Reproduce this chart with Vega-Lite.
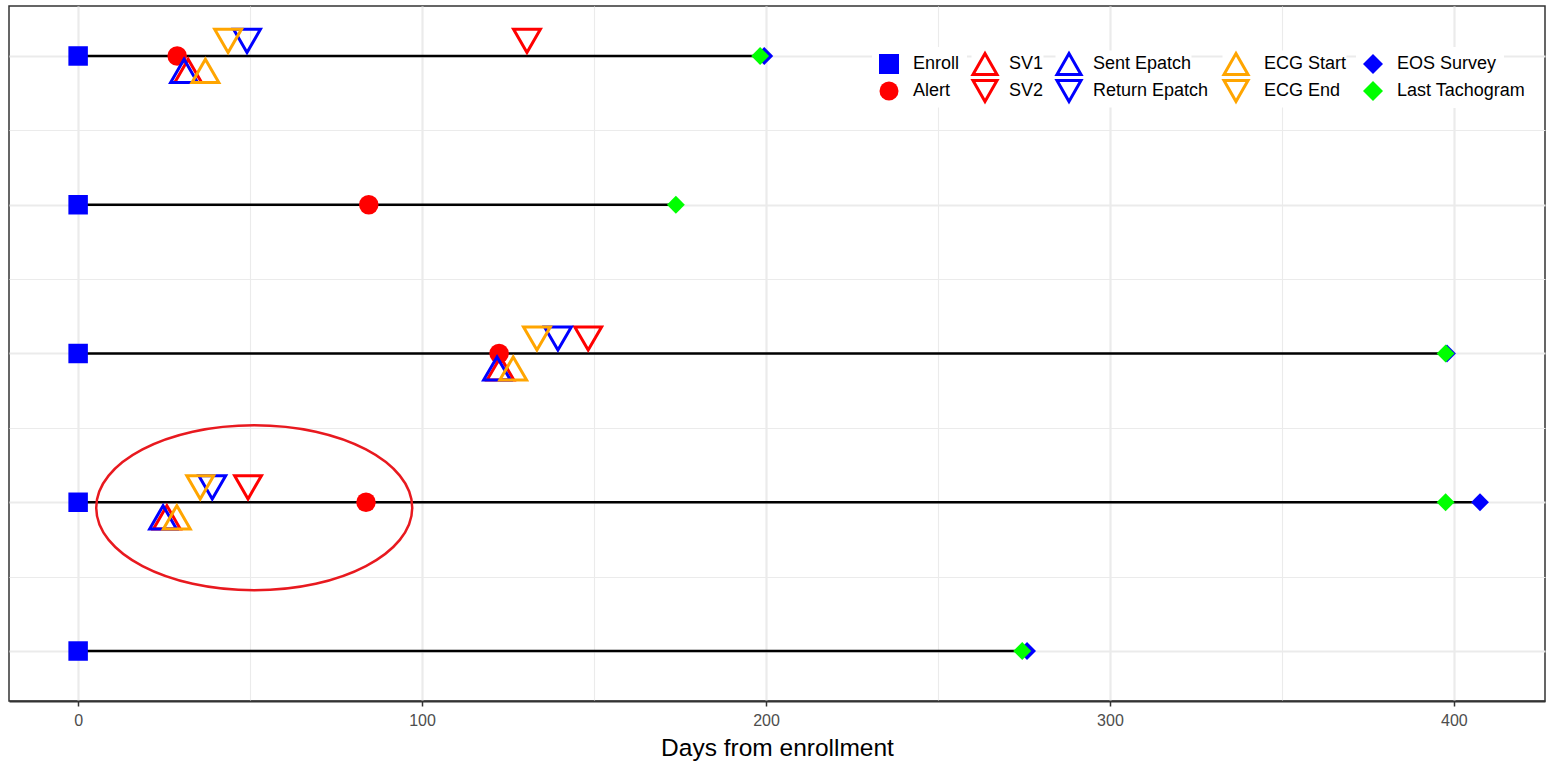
{
  "$schema": "https://vega.github.io/schema/vega-lite/v6.json",
  "width": 1536,
  "height": 695,
  "autosize": {"type": "none"},
  "padding": {"left": 9, "top": 6, "right": 2, "bottom": 64},
  "background": "white",
  "config": {
    "font": "Liberation Sans",
    "view": {"stroke": "#333333", "strokeWidth": 1.5},
    "legend": {"labelFontSize": 18, "labelColor": "#000000", "fillColor": "white", "strokeColor": null, "orient": "none"}
  },
  "resolve": {"scale": {"shape": "independent", "fill": "independent", "stroke": "independent"}},
  "data": {
    "values": [
      {"row": 1, "event": "Enroll", "day": 0},
      {"row": 2, "event": "Enroll", "day": 0},
      {"row": 3, "event": "Enroll", "day": 0},
      {"row": 4, "event": "Enroll", "day": 0},
      {"row": 5, "event": "Enroll", "day": 0},
      {"row": 1, "event": "Alert", "day": 28.8},
      {"row": 2, "event": "Alert", "day": 84.5},
      {"row": 3, "event": "Alert", "day": 122.4},
      {"row": 4, "event": "Alert", "day": 83.7},
      {"row": 1, "event": "SV1", "day": 32.0},
      {"row": 3, "event": "SV1", "day": 122.8},
      {"row": 4, "event": "SV1", "day": 25.8},
      {"row": 1, "event": "SV2", "day": 130.5},
      {"row": 3, "event": "SV2", "day": 148.3},
      {"row": 4, "event": "SV2", "day": 49.4},
      {"row": 1, "event": "Sent Epatch", "day": 30.8},
      {"row": 3, "event": "Sent Epatch", "day": 121.8},
      {"row": 4, "event": "Sent Epatch", "day": 24.7},
      {"row": 1, "event": "Return Epatch", "day": 49.1},
      {"row": 3, "event": "Return Epatch", "day": 139.5},
      {"row": 4, "event": "Return Epatch", "day": 39.0},
      {"row": 1, "event": "ECG Start", "day": 37.0},
      {"row": 3, "event": "ECG Start", "day": 126.5},
      {"row": 4, "event": "ECG Start", "day": 28.7},
      {"row": 1, "event": "ECG End", "day": 43.6},
      {"row": 3, "event": "ECG End", "day": 133.4},
      {"row": 4, "event": "ECG End", "day": 35.5},
      {"row": 1, "event": "EOS Survey", "day": 199.5},
      {"row": 3, "event": "EOS Survey", "day": 398.0},
      {"row": 4, "event": "EOS Survey", "day": 407.6},
      {"row": 5, "event": "EOS Survey", "day": 275.9},
      {"row": 1, "event": "Last Tachogram", "day": 198.3},
      {"row": 2, "event": "Last Tachogram", "day": 173.8},
      {"row": 3, "event": "Last Tachogram", "day": 397.6},
      {"row": 4, "event": "Last Tachogram", "day": 397.6},
      {"row": 5, "event": "Last Tachogram", "day": 274.5}
    ]
  },
  "layer": [
    {
      "mark": {"type": "rule", "color": "#000000", "strokeWidth": 2.5},
      "encoding": {
        "x": {"aggregate": "min", "field": "day", "type": "quantitative", "title": "Days from enrollment", "scale": {"domain": [-20.1, 426.5], "nice": false, "zero": false}},
        "x2": {"aggregate": "max", "field": "day"},
        "y": {"field": "row", "type": "quantitative", "title": null, "scale": {"domain": [0.664, 5.336], "nice": false, "zero": false, "reverse": true}}
      }
    },
    {
      "transform": [{"filter": "datum.event === 'Enroll'"}],
      "mark": {"type": "point", "size": 380, "strokeWidth": 0, "opacity": 1},
      "encoding": {
        "x": {
          "field": "day", "type": "quantitative", "title": "Days from enrollment",
          "scale": {"domain": [-20.1, 426.5], "nice": false, "zero": false},
          "axis": {
            "values": [0, 50, 100, 150, 200, 250, 300, 350, 400],
            "labelExpr": "datum.value % 100 === 0 ? datum.label : ''",
            "labelFontSize": 16, "labelColor": "#4D4D4D", "labelPadding": 6,
            "tickSize": 5, "tickWidth": 1.5,
            "tickColor": {"condition": {"test": "datum.value % 100 === 0", "value": "#333333"}, "value": "transparent"},
            "grid": true, "gridColor": "#EBEBEB",
            "gridWidth": {"condition": {"test": "datum.value % 100 === 0", "value": 2.2}, "value": 1.1},
            "domainColor": "#333333", "domainWidth": 2,
            "titleFontSize": 24.5, "titleFontWeight": "normal", "titleColor": "#000000", "titlePadding": 8
          }
        },
        "y": {
          "field": "row", "type": "quantitative", "title": null,
          "scale": {"domain": [0.664, 5.336], "nice": false, "zero": false, "reverse": true},
          "axis": {
            "values": [1, 1.5, 2, 2.5, 3, 3.5, 4, 4.5, 5],
            "labels": false, "ticks": false, "domain": false,
            "grid": true, "gridColor": "#EBEBEB",
            "gridWidth": {"condition": {"test": "datum.value % 1 === 0", "value": 2.2}, "value": 1.1}
          }
        },
        "shape": {"field": "event", "type": "nominal", "title": null, "scale": {"domain": ["Enroll"], "range": ["square"]},
          "legend": {"legendX": 863, "legendY": 41, "padding": 7, "symbolSize": 400, "symbolStrokeWidth": 0, "labelOffset": 14}},
        "fill": {"field": "event", "type": "nominal", "title": null, "scale": {"domain": ["Enroll"], "range": ["#0000FF"]}},
        "stroke": {"field": "event", "type": "nominal", "title": null, "scale": {"domain": ["Enroll"], "range": ["#0000FF"]}}
      }
    },
    {
      "transform": [{"filter": "datum.event === 'Alert'"}],
      "mark": {"type": "point", "size": 380, "strokeWidth": 0, "opacity": 1},
      "encoding": {
        "x": {"field": "day", "type": "quantitative", "title": "Days from enrollment", "scale": {"domain": [-20.1, 426.5], "nice": false, "zero": false}},
        "y": {"field": "row", "type": "quantitative", "title": null, "scale": {"domain": [0.664, 5.336], "nice": false, "zero": false, "reverse": true}},
        "shape": {"field": "event", "type": "nominal", "title": null, "scale": {"domain": ["Alert"], "range": ["circle"]},
          "legend": {"legendX": 863.5, "legendY": 68.5, "padding": 7, "symbolSize": 361, "symbolStrokeWidth": 0, "labelOffset": 14.5}},
        "fill": {"field": "event", "type": "nominal", "title": null, "scale": {"domain": ["Alert"], "range": ["#FF0000"]}},
        "stroke": {"field": "event", "type": "nominal", "title": null, "scale": {"domain": ["Alert"], "range": ["#FF0000"]}}
      }
    },
    {
      "transform": [{"filter": "datum.event === 'SV1'"}],
      "mark": {"type": "point", "size": 720, "strokeWidth": 3, "yOffset": 15, "opacity": 1},
      "encoding": {
        "x": {"field": "day", "type": "quantitative", "title": "Days from enrollment", "scale": {"domain": [-20.1, 426.5], "nice": false, "zero": false}},
        "y": {"field": "row", "type": "quantitative", "title": null, "scale": {"domain": [0.664, 5.336], "nice": false, "zero": false, "reverse": true}},
        "shape": {"field": "event", "type": "nominal", "title": null, "scale": {"domain": ["SV1"], "range": ["triangle-up"]},
          "legend": {"legendX": 962.5, "legendY": 44.5, "padding": 0, "symbolSize": 576, "symbolStrokeWidth": 3, "labelOffset": 10.5}},
        "fill": {"field": "event", "type": "nominal", "title": null, "scale": {"domain": ["SV1"], "range": ["transparent"]}},
        "stroke": {"field": "event", "type": "nominal", "title": null, "scale": {"domain": ["SV1"], "range": ["#FF0000"]}}
      }
    },
    {
      "transform": [{"filter": "datum.event === 'SV2'"}],
      "mark": {"type": "point", "size": 720, "strokeWidth": 3, "yOffset": -15, "opacity": 1},
      "encoding": {
        "x": {"field": "day", "type": "quantitative", "title": "Days from enrollment", "scale": {"domain": [-20.1, 426.5], "nice": false, "zero": false}},
        "y": {"field": "row", "type": "quantitative", "title": null, "scale": {"domain": [0.664, 5.336], "nice": false, "zero": false, "reverse": true}},
        "shape": {"field": "event", "type": "nominal", "title": null, "scale": {"domain": ["SV2"], "range": ["triangle-down"]},
          "legend": {"legendX": 962.5, "legendY": 71.5, "padding": 0, "symbolSize": 576, "symbolStrokeWidth": 3, "labelOffset": 10.5}},
        "fill": {"field": "event", "type": "nominal", "title": null, "scale": {"domain": ["SV2"], "range": ["transparent"]}},
        "stroke": {"field": "event", "type": "nominal", "title": null, "scale": {"domain": ["SV2"], "range": ["#FF0000"]}}
      }
    },
    {
      "transform": [{"filter": "datum.event === 'Sent Epatch'"}],
      "mark": {"type": "point", "size": 720, "strokeWidth": 3, "yOffset": 15, "opacity": 1},
      "encoding": {
        "x": {"field": "day", "type": "quantitative", "title": "Days from enrollment", "scale": {"domain": [-20.1, 426.5], "nice": false, "zero": false}},
        "y": {"field": "row", "type": "quantitative", "title": null, "scale": {"domain": [0.664, 5.336], "nice": false, "zero": false, "reverse": true}},
        "shape": {"field": "event", "type": "nominal", "title": null, "scale": {"domain": ["Sent Epatch"], "range": ["triangle-up"]},
          "legend": {"legendX": 1046.5, "legendY": 44.5, "padding": 0, "symbolSize": 576, "symbolStrokeWidth": 3, "labelOffset": 10.5}},
        "fill": {"field": "event", "type": "nominal", "title": null, "scale": {"domain": ["Sent Epatch"], "range": ["transparent"]}},
        "stroke": {"field": "event", "type": "nominal", "title": null, "scale": {"domain": ["Sent Epatch"], "range": ["#0000FF"]}}
      }
    },
    {
      "transform": [{"filter": "datum.event === 'Return Epatch'"}],
      "mark": {"type": "point", "size": 720, "strokeWidth": 3, "yOffset": -15, "opacity": 1},
      "encoding": {
        "x": {"field": "day", "type": "quantitative", "title": "Days from enrollment", "scale": {"domain": [-20.1, 426.5], "nice": false, "zero": false}},
        "y": {"field": "row", "type": "quantitative", "title": null, "scale": {"domain": [0.664, 5.336], "nice": false, "zero": false, "reverse": true}},
        "shape": {"field": "event", "type": "nominal", "title": null, "scale": {"domain": ["Return Epatch"], "range": ["triangle-down"]},
          "legend": {"legendX": 1046.5, "legendY": 71.5, "padding": 0, "symbolSize": 576, "symbolStrokeWidth": 3, "labelOffset": 10.5}},
        "fill": {"field": "event", "type": "nominal", "title": null, "scale": {"domain": ["Return Epatch"], "range": ["transparent"]}},
        "stroke": {"field": "event", "type": "nominal", "title": null, "scale": {"domain": ["Return Epatch"], "range": ["#0000FF"]}}
      }
    },
    {
      "transform": [{"filter": "datum.event === 'ECG Start'"}],
      "mark": {"type": "point", "size": 720, "strokeWidth": 3, "yOffset": 15, "opacity": 1},
      "encoding": {
        "x": {"field": "day", "type": "quantitative", "title": "Days from enrollment", "scale": {"domain": [-20.1, 426.5], "nice": false, "zero": false}},
        "y": {"field": "row", "type": "quantitative", "title": null, "scale": {"domain": [0.664, 5.336], "nice": false, "zero": false, "reverse": true}},
        "shape": {"field": "event", "type": "nominal", "title": null, "scale": {"domain": ["ECG Start"], "range": ["triangle-up"]},
          "legend": {"legendX": 1213.5, "legendY": 44.5, "padding": 0, "symbolSize": 576, "symbolStrokeWidth": 3, "labelOffset": 14.5}},
        "fill": {"field": "event", "type": "nominal", "title": null, "scale": {"domain": ["ECG Start"], "range": ["transparent"]}},
        "stroke": {"field": "event", "type": "nominal", "title": null, "scale": {"domain": ["ECG Start"], "range": ["#FFA500"]}}
      }
    },
    {
      "transform": [{"filter": "datum.event === 'ECG End'"}],
      "mark": {"type": "point", "size": 720, "strokeWidth": 3, "yOffset": -15, "opacity": 1},
      "encoding": {
        "x": {"field": "day", "type": "quantitative", "title": "Days from enrollment", "scale": {"domain": [-20.1, 426.5], "nice": false, "zero": false}},
        "y": {"field": "row", "type": "quantitative", "title": null, "scale": {"domain": [0.664, 5.336], "nice": false, "zero": false, "reverse": true}},
        "shape": {"field": "event", "type": "nominal", "title": null, "scale": {"domain": ["ECG End"], "range": ["triangle-down"]},
          "legend": {"legendX": 1213.5, "legendY": 71.5, "padding": 0, "symbolSize": 576, "symbolStrokeWidth": 3, "labelOffset": 14.5}},
        "fill": {"field": "event", "type": "nominal", "title": null, "scale": {"domain": ["ECG End"], "range": ["transparent"]}},
        "stroke": {"field": "event", "type": "nominal", "title": null, "scale": {"domain": ["ECG End"], "range": ["#FFA500"]}}
      }
    },
    {
      "transform": [{"filter": "datum.event === 'EOS Survey'"}],
      "mark": {"type": "point", "size": 320, "strokeWidth": 0, "opacity": 1},
      "encoding": {
        "x": {"field": "day", "type": "quantitative", "title": "Days from enrollment", "scale": {"domain": [-20.1, 426.5], "nice": false, "zero": false}},
        "y": {"field": "row", "type": "quantitative", "title": null, "scale": {"domain": [0.664, 5.336], "nice": false, "zero": false, "reverse": true}},
        "shape": {"field": "event", "type": "nominal", "title": null, "scale": {"domain": ["EOS Survey"], "range": ["diamond"]},
          "legend": {"legendX": 1347, "legendY": 41, "padding": 7, "symbolSize": 400, "symbolStrokeWidth": 0, "labelOffset": 14}},
        "fill": {"field": "event", "type": "nominal", "title": null, "scale": {"domain": ["EOS Survey"], "range": ["#0000FF"]}},
        "stroke": {"field": "event", "type": "nominal", "title": null, "scale": {"domain": ["EOS Survey"], "range": ["#0000FF"]}}
      }
    },
    {
      "transform": [{"filter": "datum.event === 'Last Tachogram'"}],
      "mark": {"type": "point", "size": 320, "strokeWidth": 0, "opacity": 1},
      "encoding": {
        "x": {"field": "day", "type": "quantitative", "title": "Days from enrollment", "scale": {"domain": [-20.1, 426.5], "nice": false, "zero": false}},
        "y": {"field": "row", "type": "quantitative", "title": null, "scale": {"domain": [0.664, 5.336], "nice": false, "zero": false, "reverse": true}},
        "shape": {"field": "event", "type": "nominal", "title": null, "scale": {"domain": ["Last Tachogram"], "range": ["diamond"]},
          "legend": {"legendX": 1347, "legendY": 68, "padding": 7, "symbolSize": 400, "symbolStrokeWidth": 0, "labelOffset": 14}},
        "fill": {"field": "event", "type": "nominal", "title": null, "scale": {"domain": ["Last Tachogram"], "range": ["#00FF00"]}},
        "stroke": {"field": "event", "type": "nominal", "title": null, "scale": {"domain": ["Last Tachogram"], "range": ["#00FF00"]}}
      }
    },
    {
      "data": {"values": [{"ax": 51.2, "ay": 4.037}]},
      "mark": {
        "type": "point",
        "shape": "M -1 0 A 1 0.522 0 1 1 1 0 A 1 0.522 0 1 1 -1 0 Z",
        "size": 99856, "filled": false, "stroke": "#E8191F", "strokeWidth": 2.5, "opacity": 1
      },
      "encoding": {
        "x": {"field": "ax", "type": "quantitative", "title": "Days from enrollment", "scale": {"domain": [-20.1, 426.5], "nice": false, "zero": false}},
        "y": {"field": "ay", "type": "quantitative", "title": null, "scale": {"domain": [0.664, 5.336], "nice": false, "zero": false, "reverse": true}}
      }
    }
  ]
}
